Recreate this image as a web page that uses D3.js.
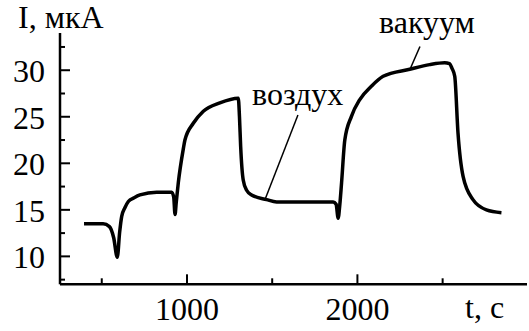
<!DOCTYPE html>
<html>
<head>
<meta charset="utf-8">
<script src="https://cdn.jsdelivr.net/npm/d3@7"></script>
</head>
<body style="margin:0">
<svg id="chart" width="529" height="331"></svg>
<script>
// time, s
const times = [396, 508, 545, 570, 591, 605, 617, 635, 656, 690, 724, 822, 910, 922, 930, 937, 949, 978,
  988, 1037, 1096, 1193, 1301, 1308, 1315, 1330, 1350, 1379, 1467, 1526, 1858, 1875, 1887, 1897, 1907,
  1926, 1965, 2014, 2083, 2151, 2307, 2424, 2512, 2540, 2555, 2571, 2590, 2620, 2678, 2757, 2845];
// current, uA
const current = [13.5, 13.5, 13.2, 12.0, 9.9, 12.6, 14.3, 15.2, 15.9, 16.3, 16.6, 16.9, 16.9, 16.4, 14.5, 15.8, 17.9, 21.5,
  22.5, 24.3, 25.6, 26.5, 27.0, 25.0, 21.8, 18.2, 17.1, 16.6, 16.1, 15.85, 15.85, 15.6, 14.1, 15.6, 17.9,
  22.5, 25.05, 26.85, 28.3, 29.35, 30.1, 30.6, 30.8, 30.7, 30.2, 29.35, 23.3, 18.6, 16.1, 15.0, 14.7];

const xMajor = [1000, 2000];
const xMinor = [500, 1500, 2500];
const yMajor = [10, 15, 20, 25, 30];
const yMinor = [7.5, 12.5, 17.5, 22.5, 27.5, 32.5];

// annotations: label anchor and pointer (in data units)
const notes = [
  {text: "воздух", lx: 1382, ly: 26.26, x1: 1651, y1: 25.2, x2: 1458, y2: 16.1},
  {text: "вакуум", lx: 2127, ly: 34.0, x1: 2367, y1: 32.55, x2: 2308, y2: 30.08}
];

const svg = d3.select("#chart");
const x = d3.scaleLinear().domain([255, 2995]).range([60, 527]);
const y = d3.scaleLinear().domain([7, 34]).range([284.3, 33]);

const serif = sel => sel
  .attr("font-size", 32)
  .style("font-family", () => '"Liberation Serif"');

// axes
svg.append("line")
  .attr("x1", x(255)).attr("x2", x(2995))
  .attr("y1", y(7)).attr("y2", y(7))
  .attr("stroke", "#000").attr("stroke-width", 2.5);
svg.append("line")
  .attr("x1", x(255)).attr("x2", x(255))
  .attr("y1", y(7)).attr("y2", y(34))
  .attr("stroke", "#000").attr("stroke-width", 2.5);

svg.append("g").selectAll("line")
  .data(xMajor.map(d => ({v: d, len: 10})).concat(xMinor.map(d => ({v: d, len: 6}))))
  .enter().append("line")
  .attr("x1", d => x(d.v)).attr("x2", d => x(d.v))
  .attr("y1", y(7)).attr("y2", d => y(7) - d.len)
  .attr("stroke", "#000").attr("stroke-width", 2);

svg.append("g").selectAll("line")
  .data(yMajor.map(d => ({v: d, len: 10})).concat(yMinor.map(d => ({v: d, len: 5}))))
  .enter().append("line")
  .attr("y1", d => y(d.v)).attr("y2", d => y(d.v))
  .attr("x1", x(255)).attr("x2", d => x(255) + d.len)
  .attr("stroke", "#000").attr("stroke-width", 2);

svg.append("g").selectAll("text")
  .data(xMajor)
  .enter().append("text")
  .attr("x", d => x(d)).attr("y", 320)
  .attr("text-anchor", "middle")
  .call(serif)
  .text(d => d);

svg.append("g").selectAll("text")
  .data(yMajor)
  .enter().append("text")
  .attr("x", 45).attr("y", d => y(d) + 12)
  .attr("text-anchor", "end")
  .call(serif)
  .text(d => d);

svg.append("text").attr("x", 18).attr("y", 28).call(serif).text("I, мкА");
svg.append("text").attr("x", 465).attr("y", 318).call(serif).text("t, с");

// curve
const line = d3.line()
  .x((d, i) => x(times[i]))
  .y(d => y(d))
  .curve(d3.curveMonotoneX);

svg.append("path")
  .datum(current)
  .attr("d", line)
  .attr("fill", "none")
  .attr("stroke", "#000")
  .attr("stroke-width", 3.5)
  .attr("stroke-linejoin", "round");

// annotations
const ann = svg.append("g").selectAll("g").data(notes).enter().append("g");
ann.append("line")
  .attr("x1", d => x(d.x1)).attr("y1", d => y(d.y1))
  .attr("x2", d => x(d.x2)).attr("y2", d => y(d.y2))
  .attr("stroke", "#000").attr("stroke-width", 1.5);
ann.append("text")
  .attr("x", d => x(d.lx)).attr("y", d => y(d.ly))
  .call(serif)
  .text(d => d.text);
</script>
</body>
</html>
